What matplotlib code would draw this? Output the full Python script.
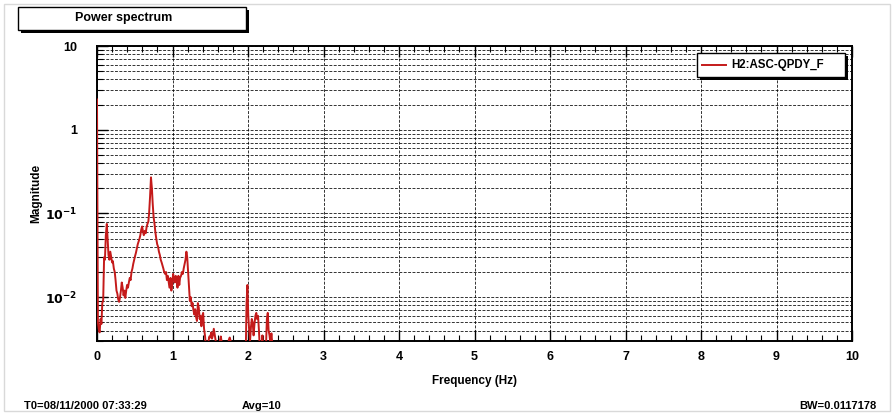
import matplotlib
matplotlib.use("Agg")
import matplotlib.pyplot as plt
from matplotlib.patches import Rectangle
from matplotlib.lines import Line2D
from matplotlib.ticker import FixedLocator, LogLocator, NullFormatter, FixedFormatter

plt.rcParams['font.family'] = ['Liberation Sans', 'DejaVu Sans']

# ---------------- data ----------------
freq = [0.0, 0.012, 0.023, 0.035, 0.047, 0.059, 0.07, 0.082, 0.094, 0.105,
        0.117, 0.13, 0.14, 0.152, 0.164, 0.176, 0.188, 0.2, 0.21, 0.223,
        0.235, 0.246, 0.258, 0.27, 0.28, 0.293, 0.305, 0.317, 0.328, 0.34,
        0.352, 0.363, 0.375, 0.387, 0.398, 0.41, 0.422, 0.434, 0.445, 0.457,
        0.469, 0.48, 0.492, 0.504, 0.516, 0.527, 0.54, 0.55, 0.563, 0.574,
        0.586, 0.598, 0.61, 0.62, 0.633, 0.645, 0.656, 0.668, 0.68, 0.69,
        0.703, 0.715, 0.727, 0.738, 0.75, 0.762, 0.773, 0.785, 0.797, 0.809,
        0.82, 0.832, 0.844, 0.856, 0.867, 0.879, 0.89, 0.902, 0.914, 0.926,
        0.938, 0.95, 0.96, 0.973, 0.985, 0.996, 1.008, 1.02, 1.03, 1.043,
        1.055, 1.066, 1.078, 1.09, 1.1, 1.113, 1.125, 1.137, 1.148, 1.16,
        1.172, 1.184, 1.195, 1.207, 1.22, 1.23, 1.242, 1.254, 1.266, 1.277,
        1.29, 1.3, 1.312, 1.324, 1.336, 1.348, 1.36, 1.37, 1.383, 1.395,
        1.406, 1.418, 1.43, 1.44, 1.453, 1.465, 1.477, 1.488, 1.5, 1.512,
        1.523, 1.535, 1.547, 1.56, 1.57, 1.582, 1.594, 1.605, 1.617, 1.63,
        1.64, 1.652, 1.664, 1.676, 1.69, 1.7, 1.71, 1.723, 1.735, 1.746,
        1.758, 1.77, 1.78, 1.793, 1.805, 1.816, 1.828, 1.84, 1.85, 1.9,
        1.97, 1.98, 1.992, 2.004, 2.016, 2.027, 2.04, 2.05, 2.062, 2.074,
        2.086, 2.098, 2.11, 2.12, 2.133, 2.145, 2.156, 2.168, 2.18, 2.19,
        2.2, 2.215, 2.227, 2.24, 2.25, 2.262, 2.273, 2.285, 2.297, 2.31,
        2.32, 2.332, 2.344, 2.355, 2.37, 3.0, 5.0, 8.0, 10.0]

magnitude = [2.3, 0.005, 0.0042, 0.0038, 0.0055, 0.0048, 0.0085, 0.0092, 0.03, 0.028,
             0.055, 0.075, 0.05, 0.032, 0.028, 0.035, 0.03, 0.026, 0.027, 0.022,
             0.02, 0.016, 0.012, 0.011, 0.0095, 0.0088, 0.01, 0.012, 0.015, 0.013,
             0.0105, 0.012, 0.0098, 0.012, 0.014, 0.013, 0.015, 0.017, 0.016, 0.02,
             0.022, 0.025, 0.028, 0.031, 0.034, 0.038, 0.043, 0.046, 0.05, 0.055,
             0.064, 0.07, 0.06, 0.055, 0.062, 0.058, 0.068, 0.075, 0.08, 0.1,
             0.16, 0.27, 0.2, 0.13, 0.09, 0.075, 0.06, 0.05, 0.043, 0.04,
             0.035, 0.032, 0.028, 0.026, 0.024, 0.022, 0.02, 0.019, 0.02, 0.016,
             0.018, 0.015, 0.013, 0.017, 0.012, 0.014, 0.019, 0.017, 0.015, 0.018,
             0.016, 0.013, 0.018, 0.014, 0.017, 0.018, 0.02, 0.019, 0.022, 0.025,
             0.028, 0.035, 0.03, 0.02, 0.013, 0.009, 0.01, 0.0078, 0.0085, 0.007,
             0.0062, 0.0072, 0.0058, 0.0052, 0.0085, 0.0075, 0.0055, 0.006, 0.0045, 0.006,
             0.0065, 0.0042, 0.0035, 0.0028, 0.0025, 0.0022, 0.003, 0.0034, 0.0033, 0.0038,
             0.0032, 0.0035, 0.0042, 0.0035, 0.0031, 0.0025, 0.0022, 0.0024, 0.0026, 0.0031,
             0.0034, 0.0029, 0.0027, 0.0022, 0.0021, 0.0022, 0.0023, 0.0021, 0.0026, 0.0031,
             0.0033, 0.003, 0.0024, 0.0021, 0.0022, 0.0021, 0.0023, 0.0025, 0.002, 0.0018,
             0.0021, 0.008, 0.014, 0.006, 0.004, 0.003, 0.0045, 0.0055, 0.005, 0.0035,
             0.0048, 0.006, 0.0065, 0.0055, 0.006, 0.004, 0.0025, 0.0022, 0.0021, 0.0035,
             0.0022, 0.002, 0.0024, 0.0029, 0.0055, 0.0065, 0.004, 0.0035, 0.0028, 0.0037,
             0.0029, 0.0026, 0.0023, 0.002, 0.0015, 0.0012, 0.0012, 0.0012, 0.0012]

x_ticks = [0, 1, 2, 3, 4, 5, 6, 7, 8, 9, 10]
x_ticklabels = ["0", "1", "2", "3", "4", "5", "6", "7", "8", "9", "10"]
y_ticks = [0.01, 0.1, 1, 10]
y_ticklabels = [r"$\mathbf{10^{-2}}$", r"$\mathbf{10^{-1}}$", "1", "10"]

title_text = "Power spectrum"
legend_label = "H2:ASC-QPDY_F"
xlabel = "Frequency (Hz)"
ylabel = "Magnitude"
footer_left = "T0=08/11/2000 07:33:29"
footer_mid = "Avg=10"
footer_right = "BW=0.0117178"

# ---------------- figure ----------------
W, H = 894, 415
fig = plt.figure(figsize=(W / 100, H / 100), dpi=100)
fig.patch.set_facecolor("white")

def fx(px):
    return px / W

def fy(py):
    return 1 - py / H

# outer faint frame
fig.patches.append(Rectangle((fx(4), fy(411)), fx(886), (407) / H, transform=fig.transFigure,
                             fill=False, edgecolor="0.85", lw=1.0))

L, R, T, B = 97, 852, 46, 341
ax = fig.add_axes([fx(L), fy(B), (R - L) / W, (B - T) / H])
ax.set_yscale("log")
ax.set_xlim(0, 10)
ax.set_ylim(0.003, 10)

ax.plot(freq, magnitude, color="#c41a1a", lw=1.4, zorder=3)

# grid
ax.xaxis.set_major_locator(FixedLocator(x_ticks))
ax.xaxis.set_minor_locator(FixedLocator([i * 0.2 for i in range(51)]))
ax.xaxis.set_major_formatter(FixedFormatter(x_ticklabels))
ax.yaxis.set_major_locator(FixedLocator(y_ticks))
ax.yaxis.set_major_formatter(FixedFormatter(y_ticklabels))
ax.yaxis.set_minor_locator(LogLocator(base=10, subs=range(2, 10), numticks=20))
ax.yaxis.set_minor_formatter(NullFormatter())

grid_kw = dict(color="black", lw=0.7, linestyle=(0, (3, 1.5)), alpha=0.8)
ax.grid(True, which="major", axis="x", **grid_kw)
ax.grid(True, which="both", axis="y", **grid_kw)
ax.set_axisbelow(True)

for s in ax.spines.values():
    s.set_linewidth(1.4)
    s.set_color("black")

ax.tick_params(axis="x", which="major", direction="in", length=8, width=1.0, top=True, bottom=True, pad=7)
ax.tick_params(axis="x", which="minor", direction="in", length=4, width=0.8, top=True, bottom=True)
ax.tick_params(axis="y", which="major", direction="in", length=8, width=1.0, left=True, right=False, pad=14)
ax.tick_params(axis="y", which="minor", direction="in", length=4, width=0.8, left=True, right=False)
for lab in ax.get_xticklabels() + ax.get_yticklabels():
    lab.set_fontweight("bold")
    lab.set_fontsize(9)

# axis labels
fig.text(fx(475), fy(381), xlabel, ha="center", va="center", fontsize=8.5, fontweight="bold")
fig.text(fx(36), fy(193), ylabel, ha="center", va="center", rotation=90, fontsize=8.5, fontweight="bold")

# footer
fig.text(fx(24), fy(406), footer_left, ha="left", va="center", fontsize=8, fontweight="bold")
fig.text(fx(262), fy(406), footer_mid, ha="center", va="center", fontsize=8, fontweight="bold")
fig.text(fx(877), fy(406), footer_right, ha="right", va="center", fontsize=8, fontweight="bold")

# title box with shadow
fig.patches.append(Rectangle((fx(21), fy(33)), (228) / W, (23) / H, transform=fig.transFigure,
                             facecolor="black", edgecolor="black", lw=0, zorder=1))
fig.patches.append(Rectangle((fx(18), fy(30)), (228) / W, (23) / H, transform=fig.transFigure,
                             facecolor="white", edgecolor="black", lw=1.0, zorder=2))
fig.text(fx(124), fy(18.5), title_text, ha="center", va="center", fontsize=9, fontweight="bold", zorder=3)

# legend box with shadow
lx0, ly0, lx1, ly1 = 697, 53, 845, 77
fig.patches.append(Rectangle((fx(lx0 + 3), fy(ly1 + 3)), (lx1 - lx0) / W, (ly1 - ly0) / H,
                             transform=fig.transFigure, facecolor="black", lw=0, zorder=5))
leg_box = Rectangle((fx(lx0), fy(ly1)), (lx1 - lx0) / W, (ly1 - ly0) / H,
                    transform=fig.transFigure, facecolor="white", edgecolor="black",
                    lw=1.0, zorder=6)
fig.patches.append(leg_box)
fig.lines.append(Line2D([fx(702), fx(726)], [fy(65), fy(65)], transform=fig.transFigure,
                        color="#c41a1a", lw=1.4, zorder=7))
leg_txt = fig.text(fx(731), fy(65), legend_label, ha="left", va="center", fontsize=8.3,
                   fontweight="bold", zorder=8)
leg_txt.set_clip_path(leg_box)

fig.savefig("out.png", dpi=100)
